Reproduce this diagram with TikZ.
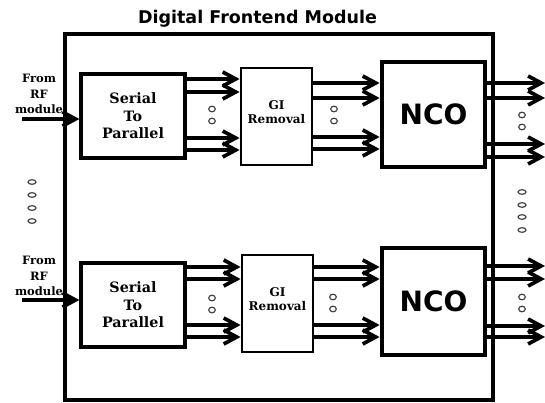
\documentclass[tikz,border=0pt]{standalone}
\usepackage{fontspec}
\setmainfont{DejaVu Serif}
\setsansfont{DejaVu Sans}
\usetikzlibrary{arrows.meta,positioning}
\tikzset{
  blk/.style={draw,line width=3.2pt,inner sep=0pt,align=center},
  spblk/.style={blk,minimum width=104pt,minimum height=84pt,
    font=\fontsize{14.3}{17.5}\selectfont\bfseries},
  giblk/.style={blk,line width=2.8pt,minimum width=71pt,minimum height=97pt,
    font=\fontsize{12}{14}\selectfont\bfseries},
  ncoblk/.style={blk,line width=4.8pt,minimum width=103pt,
    font=\fontsize{28}{30}\selectfont\sffamily\bfseries},
  srclbl/.style={align=center,inner sep=0pt,font=\fontsize{11.5}{15.5}\selectfont\bfseries},
  bus/.style={line width=3.7pt,-{Straight Barb[length=13pt,width=14pt]}},
  ring/.style={line width=1.2pt,black!75},
}

\begin{document}
\begin{tikzpicture}[x=1pt,y=-1pt]
\useasboundingbox (0,0) rectangle (545,403);
% module frame and title
\node[draw,line width=3.4pt,inner sep=0pt,minimum width=428pt,minimum height=366pt] (dfm) at (279,217) {};
\node[inner sep=0pt,font=\fontsize{17.5}{20}\selectfont\sffamily\bfseries] (title) at (257.5,19) {Digital Frontend Module};
\coordinate (edgeR) at (545,0);

% upper branch
\node[spblk] (s2pA) at (133,116) {Serial\\To\\Parallel};
\node[giblk] (giA) at (276.5,116.5) {GI\\Removal\\[-5pt]};
\node[ncoblk,minimum height=105pt] (ncoA) at (433.5,114.5) {NCO};
\node[srclbl] (srcA) at (39,94) {From\\RF\\module};
\coordinate (rfA) at (22,119);
\draw[bus] (rfA) -- (rfA -| s2pA.west);
\draw[bus] ([yshift=37pt]s2pA.east) -- ([yshift=37pt]s2pA.east -| giA.west);
\draw[bus] ([yshift=24pt]s2pA.east) -- ([yshift=24pt]s2pA.east -| giA.west);
\draw[bus] ([yshift=-22pt]s2pA.east) -- ([yshift=-22pt]s2pA.east -| giA.west);
\draw[bus] ([yshift=-34pt]s2pA.east) -- ([yshift=-34pt]s2pA.east -| giA.west);
\draw[bus] ([yshift=33.5pt]giA.east) -- ([yshift=33.5pt]giA.east -| ncoA.west);
\draw[bus] ([yshift=18.5pt]giA.east) -- ([yshift=18.5pt]giA.east -| ncoA.west);
\draw[bus] ([yshift=-20.5pt]giA.east) -- ([yshift=-20.5pt]giA.east -| ncoA.west);
\draw[bus] ([yshift=-32.5pt]giA.east) -- ([yshift=-32.5pt]giA.east -| ncoA.west);
\draw[bus] ([yshift=31.5pt]ncoA.east) -- ([yshift=31.5pt]ncoA.east -| edgeR);
\draw[bus] ([yshift=16.5pt]ncoA.east) -- ([yshift=16.5pt]ncoA.east -| edgeR);
\draw[bus] ([yshift=-29.5pt]ncoA.east) -- ([yshift=-29.5pt]ncoA.east -| edgeR);
\draw[bus] ([yshift=-42.5pt]ncoA.east) -- ([yshift=-42.5pt]ncoA.east -| edgeR);

% lower branch
\node[spblk] (s2pB) at (133,305) {Serial\\To\\Parallel};
\node[giblk] (giB) at (277.5,303.5) {GI\\Removal\\[-5pt]};
\node[ncoblk,minimum height=107pt] (ncoB) at (433.5,301.5) {NCO};
\node[srclbl] (srcB) at (39,276) {From\\RF\\module};
\coordinate (rfB) at (22,300);
\draw[bus] (rfB) -- (rfB -| s2pB.west);
\draw[bus] ([yshift=38pt]s2pB.east) -- ([yshift=38pt]s2pB.east -| giB.west);
\draw[bus] ([yshift=26pt]s2pB.east) -- ([yshift=26pt]s2pB.east -| giB.west);
\draw[bus] ([yshift=-20pt]s2pB.east) -- ([yshift=-20pt]s2pB.east -| giB.west);
\draw[bus] ([yshift=-32pt]s2pB.east) -- ([yshift=-32pt]s2pB.east -| giB.west);
\draw[bus] ([yshift=36.5pt]giB.east) -- ([yshift=36.5pt]giB.east -| ncoB.west);
\draw[bus] ([yshift=24.5pt]giB.east) -- ([yshift=24.5pt]giB.east -| ncoB.west);
\draw[bus] ([yshift=-21.5pt]giB.east) -- ([yshift=-21.5pt]giB.east -| ncoB.west);
\draw[bus] ([yshift=-33.5pt]giB.east) -- ([yshift=-33.5pt]giB.east -| ncoB.west);
\draw[bus] ([yshift=35.5pt]ncoB.east) -- ([yshift=35.5pt]ncoB.east -| edgeR);
\draw[bus] ([yshift=22.5pt]ncoB.east) -- ([yshift=22.5pt]ncoB.east -| edgeR);
\draw[bus] ([yshift=-24.5pt]ncoB.east) -- ([yshift=-24.5pt]ncoB.east -| edgeR);
\draw[bus] ([yshift=-35.5pt]ncoB.east) -- ([yshift=-35.5pt]ncoB.east -| edgeR);

% ellipsis dots
\foreach \xx/\yy in {212/109,212/121,334/109,334/121,522/115,522/127,
                     212/298,212/310,333/297,333/309,522/297,522/309}
  \draw[ring] (\xx,\yy) ellipse (3.3 and 2.8);
\foreach \yy in {182,195,208,221}
  \draw[ring] (32,\yy) ellipse (4 and 2.3);
\foreach \yy in {192,205,217,230}
  \draw[ring] (522,\yy) ellipse (4 and 2.3);
\end{tikzpicture}
\end{document}
